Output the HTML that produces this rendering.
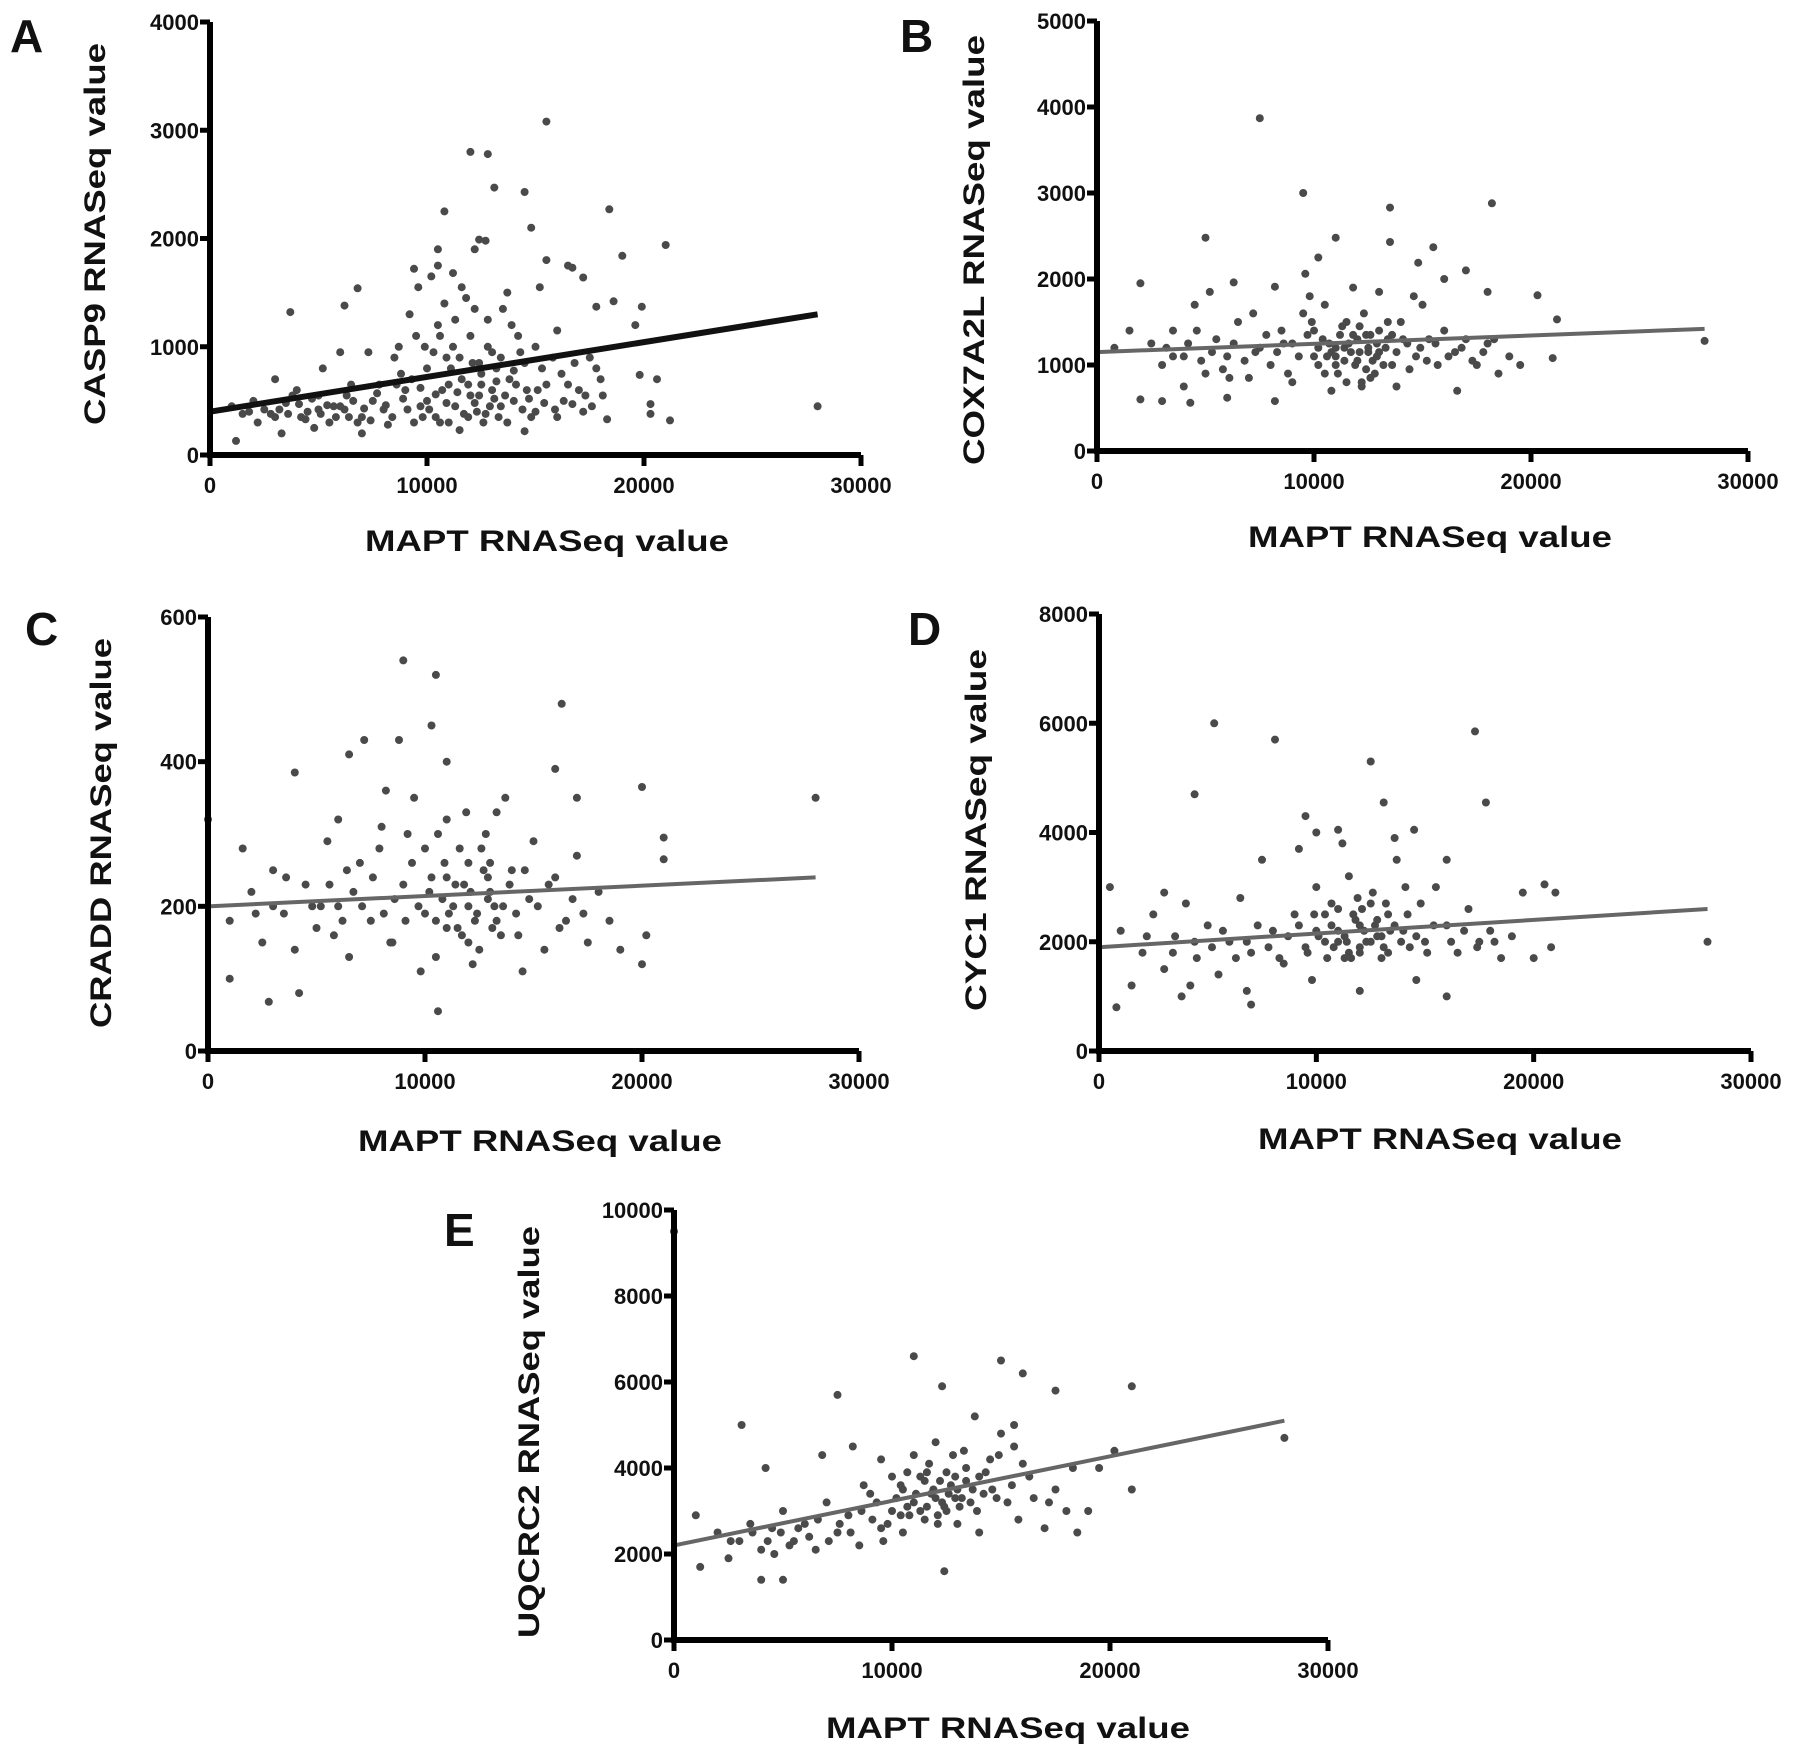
<!DOCTYPE html>
<html><head><meta charset="utf-8">
<style>
html,body{margin:0;padding:0;background:#fff;}
svg{display:block;}
text{font-family:"Liberation Sans",sans-serif;font-weight:bold;fill:#111;}
</style></head>
<body>
<svg id="fig" width="1795" height="1757" viewBox="0 0 1795 1757" xmlns="http://www.w3.org/2000/svg"></svg>
<script>
// ---- data (MAPT in thousands, gene value) ----
const xTickLabels = ["0","10000","20000","30000"];
const xTickValues = [0,10000,20000,30000];

const casp9Points = [[15.5,3080],[12,2800],[12.8,2780],[13.1,2470],[14.5,2430],[10.8,2250],[18.4,2270],[21,1940],[14.8,2100],[12.4,1990],[12.7,1980],[10.5,1900],[12.2,1900],[19,1840],[9.4,1720],[10.5,1750],[11.2,1680],[16.5,1750],[16.7,1730],[17.2,1640],[15.5,1800],[6.8,1540],[6.2,1380],[3.7,1320],[19.9,1370],[18.6,1420],[17.8,1370],[19.6,1200],[28,450],[21.2,320],[20.3,380],[20.3,470],[20.6,700],[19.8,740],[18.3,330],[1.2,130],[3.3,200],[7,200],[14.5,220],[11.5,230],
[1,450],[1.5,380],[2,500],[2.5,420],[3,350],[3.5,480],[4,600],[4.5,400],[5,550],[5.5,300],[6,450],[6.5,650],[7,350],[7.5,500],[8,420],[8.5,900],[9,600],[9.5,1100],[9.2,1300],[10,800],[10,500],[10.5,1200],[10.8,1400],[11,650],[11,300],[11.5,900],[11.8,1450],[12,550],[12,1100],[12.3,400],[12.5,750],[12.8,1250],[13,600],[13,950],[13.3,350],[13.5,1350],[13.8,700],[14,500],[14.2,1100],[14.5,850],[15,400],[15,1000],[15.5,650],[16,1150],[16.3,500],[16.8,850],[17,600],[17.5,900],[18,700],[2.2,300],[4.8,250],[6.8,300],[8.2,280],[9.8,350],[11.3,450],[12.6,300],[14.8,350],[16,350],[17.2,400],[18.1,550],[5.2,800],[7.3,950],[8.7,1000],[9.6,1550],[10.2,1650],[11.6,1550],[13.7,1500],[15.2,1550],[3,700],[6,950],
[9.3,700],[9.7,450],[10.3,950],[10.7,600],[11.2,1000],[11.6,700],[12.1,850],[12.4,550],[12.9,450],[13.2,800],[13.6,550],[14.1,650],[14.6,600],[15.3,800],[10.4,350],[11.9,350],[8.8,750],[7.8,650],[6.3,550],[5.7,450],[4.2,350],[3.8,550],[13.9,1200],[15.8,900],[16.5,650],[17.8,800],
[3.2,420],[3.6,380],[4.1,470],[4.4,330],[4.7,520],[5.1,380],[5.4,460],[5.8,350],[6.2,420],[6.6,500],[7.1,430],[7.4,320],[7.7,570],[8.1,460],[8.4,350],[8.9,520],[9.1,420],[9.4,300],[9.7,620],[10.1,420],[10.4,560],[10.6,300],[10.9,480],[11.1,800],[11.4,580],[11.7,380],[12.2,480],[12.5,650],[12.7,380],[13.1,520],[13.4,450],[13.7,300],[14,780],[14.4,420],[14.7,520],[15.1,600],[15.4,480],[15.9,420],[16.2,750],[16.7,470],[17.3,550],[17.6,450],[9.9,1000],[10.6,1100],[11.3,1250],[12.2,1350],[10.9,900],[12.8,1000],[13.4,900],[8.6,650],[6.4,350],[5,420],[2.8,380],[1.8,400],[11.9,650],[12.4,850],[13.2,680],[14.3,950]];
const casp9Fit = [400,1300];

const cox7Points = [[7.5,3870],[9.5,3000],[13.5,2830],[18.2,2880],[5,2480],[11,2480],[13.5,2430],[15.5,2370],[10.2,2250],[14.8,2190],[17,2100],[9.6,2060],[2,1950],[6.3,1960],[8.2,1910],[16,2000],[28,1280],[21,1080],[21.2,1530],[20.3,1810],[18,1850],[2,600],[3,580],[4.3,560],[8.2,580],[16.6,700],[6,620],
[0.8,1200],[1.5,1400],[2.5,1250],[3,1000],[3.5,1400],[4,1100],[4.5,1700],[5,900],[5.5,1300],[6,1100],[6.5,1500],[7,850],[7.5,1200],[8,1000],[8.5,1400],[9,1250],[9,800],[9.5,1600],[10,1100],[10,1400],[10.5,900],[10.5,1700],[11,1200],[11,1000],[11.5,1500],[11.5,800],[12,1300],[12,1050],[12.3,1600],[12.5,1150],[12.8,900],[13,1400],[13.3,1200],[13.6,1000],[14,1500],[14.3,1250],[14.7,1100],[15,1700],[15.3,1300],[15.7,1000],[16,1400],[16.5,1150],[17,1300],[17.5,1000],[18,1250],[18.5,900],[19,1100],[19.5,1000],[5.2,1850],[9.8,1800],[11.8,1900],[13,1850],[14.6,1800],[4,750],[10.8,700],[12.2,750],[13.8,750],[7.2,1600],[3.2,1200],
[11.2,1350],[11.7,1150],[12.1,1450],[12.6,1350],[12.9,1100],[10.7,1250],[13.4,1300],[11.4,1050],[12.4,950],[10.2,1200],
[3.5,1100],[4.2,1250],[4.8,1050],[5.3,1150],[5.8,950],[6.3,1250],[6.8,1050],[7.3,1150],[7.8,1350],[8.3,1150],[8.8,900],[9.3,1100],[9.7,1350],[10.2,1000],[10.4,1300],[10.8,1150],[11.1,900],[11.3,1450],[11.6,1250],[11.9,1000],[12.1,1150],[12.4,1350],[12.6,850],[12.9,1250],[13.2,1000],[13.4,1500],[13.8,1150],[14.1,1300],[14.4,950],[14.9,1200],[15.2,1050],[15.6,1250],[16.2,1100],[16.8,1200],[17.3,1050],[17.8,1150],[18.3,1300],[11,1100],[11.8,1350],[12.2,800],[12.7,1050],[13,1150],[10.6,1100],[11.4,1200],[12.5,1200],[13.6,1350],[9.9,1500],[8.6,1250],[6.1,850],[4.6,1400]];
const cox7Fit = [1150,1420];

const craddPoints = [[9,540],[10.5,520],[10.3,450],[16.3,480],[7.2,430],[8.8,430],[6.5,410],[11,400],[4,385],[16,390],[20,365],[28,350],[0,320],[17,350],[21,295],[21,265],[20.2,160],[20,120],[2.8,68],[10.6,55],[4.2,80],[1,100],[1.6,280],
[1,180],[2,220],[2.5,150],[3,250],[3.5,190],[4,140],[4.5,230],[5,170],[5.5,290],[6,200],[6.5,130],[7,260],[7.5,180],[8,310],[8.5,150],[9,230],[9.5,350],[10,190],[10,280],[10.5,130],[11,240],[11,320],[11.5,170],[12,260],[12,200],[12.5,140],[12.8,300],[13,220],[13.3,180],[13.7,350],[14,250],[14.3,160],[14.8,210],[15,290],[15.5,140],[16,240],[16.5,180],[17,270],[17.5,150],[18,220],[18.5,180],[19,140],[6,320],[8.2,360],[9.8,110],[12.2,120],[14.5,110],[3,200],[5.8,160],
[11.3,200],[11.8,230],[12.3,180],[12.7,250],[13.1,170],[10.8,210],[11.6,280],[12.9,210],[10.3,240],[13.6,200],
[5.2,200],[5.6,230],[6.2,180],[6.7,220],[7.1,200],[7.6,240],[8.1,190],[8.6,210],[9.1,180],[9.4,260],[9.7,200],[10.2,220],[10.5,180],[10.9,260],[11.1,190],[11.4,230],[11.7,160],[12.1,220],[12.4,190],[12.6,280],[12.9,240],[13.2,200],[13.5,160],[13.9,230],[14.2,190],[14.6,250],[15.2,200],[15.7,230],[16.2,170],[16.8,210],[17.3,190],[11,170],[12,150],[13,260],[10.6,300],[9.2,300],[7.9,280],[4.8,200],[3.6,240],[2.2,190],[11.9,330],[13.3,330],[6.4,250],[8.4,150]];
const craddFit = [200,240];

const cyc1Points = [[5.3,6000],[8.1,5700],[17.3,5850],[12.5,5300],[4.4,4700],[17.8,4550],[13.1,4550],[9.5,4300],[10,4000],[11,4050],[14.5,4050],[16,3500],[0.5,3000],[28,2000],[21,2900],[20.5,3050],[20.8,1900],[0.8,800],[1.5,1200],[7,850],[3.8,1000],[12,1100],[16,1000],
[1,2200],[2,1800],[2.5,2500],[3,1500],[3.5,2100],[4,2700],[4.5,1700],[5,2300],[5.5,1400],[6,2000],[6.5,2800],[7,1800],[7.5,3500],[8,2200],[8.5,1600],[9,2500],[9.5,1900],[10,3000],[10,2200],[10.5,1700],[11,2600],[11,2000],[11.5,3200],[11.5,1800],[12,2300],[12,1900],[12.5,2700],[12.8,2100],[13,1700],[13.3,2500],[13.7,3500],[14,2200],[14.3,1900],[14.8,2700],[15,2000],[15.5,3000],[16,2300],[16.5,1800],[17,2600],[17.5,2000],[18,2200],[18.5,1700],[19,2100],[19.5,2900],[20,1700],[9.2,3700],[11.2,3800],[13.6,3900],[4.2,1200],[6.8,1100],[9.8,1300],[14.6,1300],[3,2900],
[11.3,2100],[11.8,2400],[12.3,2000],[12.7,2300],[13.1,1900],[10.7,2300],[12.1,2600],[11.6,1700],[10.4,2000],[13.4,2200],
[5.2,1900],[5.7,2200],[6.3,1700],[6.8,2000],[7.3,2300],[7.8,1900],[8.3,1700],[8.7,2100],[9.2,2300],[9.6,1800],[10.1,2100],[10.4,2500],[10.8,1900],[11,2200],[11.4,2000],[11.7,2500],[12,1800],[12.2,2200],[12.5,2000],[12.8,2400],[13,2100],[13.3,1800],[13.6,2300],[13.9,2000],[14.2,2500],[14.6,2100],[15.1,1800],[15.4,2300],[16.2,2000],[16.8,2200],[17.4,1900],[18.2,2000],[11.9,2800],[12.6,2900],[10.7,2700],[13.2,2700],[4.4,2000],[3.4,1800],[2.2,2100],[14.1,3000],[9.9,2500],[11.3,1700]];
const cyc1Fit = [1900,2600];

const uqcrc2Points = [[0,9500],[11,6600],[15,6500],[12.3,5900],[16,6200],[21,5900],[7.5,5700],[3.1,5000],[17.5,5800],[28,4700],[21,3500],[19,3000],[5,1400],[12.4,1600],[1,2900],[1.2,1700],[4,1400],
[2,2500],[2.5,1900],[3,2300],[3.5,2700],[4,2100],[4.5,2600],[5,3000],[5.5,2300],[6,2700],[6.5,2100],[7,3200],[7.5,2500],[8,2900],[8.5,2200],[9,3400],[9.5,2600],[9.5,4200],[10,3000],[10,3800],[10.5,2500],[10.5,3500],[11,3200],[11,4300],[11.5,2800],[11.5,3700],[12,3300],[12,4600],[12.5,3000],[12.5,3900],[13,3500],[13,2700],[13.3,4400],[13.6,3200],[14,3800],[14,2500],[14.5,4200],[14.8,3300],[15,4800],[15.5,3600],[15.8,2800],[16,4100],[16.5,3300],[17,2600],[17.5,3500],[18,3000],[18.3,4000],[18.5,2500],[19.5,4000],[20.2,4400],[8.2,4500],[6.8,4300],[4.2,4000],[13.8,5200],[15.6,5000],
[11.3,3000],[11.8,3400],[12.3,3200],[12.7,3600],[13.1,3100],[10.7,3100],[12.1,2900],[11.6,3900],[10.4,2900],[13.4,3700],[12.9,3300],[14.2,3400],
[4.3,2300],[4.6,2000],[4.9,2500],[5.3,2200],[5.7,2600],[6.2,2400],[6.6,2800],[7.1,2300],[7.6,2700],[8.1,2500],[8.6,3000],[9.1,2800],[9.3,3200],[9.8,2700],[10.2,3300],[10.4,3600],[10.8,2900],[11.1,3400],[11.3,3800],[11.6,3100],[11.9,3500],[12.2,3700],[12.4,3100],[12.6,3400],[12.9,3800],[13.2,3300],[13.4,4000],[13.7,3500],[13.9,3000],[14.3,3900],[14.6,3500],[14.9,4300],[15.3,3200],[15.6,4500],[16.3,3800],[17.2,3200],[11.7,4100],[12.8,4300],[10.7,3900],[12.1,2700],[3.6,2500],[2.6,2300],[8.7,3600],[9.6,2300]];
const uqcrc2Fit = [2200,5100];

// ---- layout ----
const svg = document.getElementById('fig');
const NS = 'http://www.w3.org/2000/svg';
function mk(tag, attrs, parent){const e=document.createElementNS(NS,tag);for(const k in attrs)e.setAttribute(k,attrs[k]);(parent||svg).appendChild(e);return e;}

function panel(cfg){
  const g = mk('g',{});
  
  
  const xS = v => cfg.ox + (v/30000)*(cfg.xEnd-cfg.ox);
  const yS = v => cfg.oy - (v/cfg.ymax)*(cfg.oy-cfg.top);
  const pg = mk('g',{fill:'#4a4a4a'},g);
  
  
  cfg.pts.forEach(p=>{
    const c = mk('circle',{cx:xS(p[0]*1000).toFixed(1),cy:yS(p[1]).toFixed(1),r:4},pg);
    
    
  });
  const ln = mk('line',{x1:xS(0),y1:yS(cfg.fit[0]),x2:xS(28000),y2:yS(cfg.fit[1]),stroke:cfg.lineColor,'stroke-width':cfg.lineW},g);
  
  
  const ax = mk('path',{d:`M${cfg.ox},${cfg.top} L${cfg.ox},${cfg.oy} L${cfg.xEnd},${cfg.oy}`,stroke:'#000','stroke-width':6,fill:'none'},g);
  
  
  for(let v=0; v<=cfg.ymax; v+=cfg.ystep){
    const y=yS(v);
    mk('line',{x1:cfg.ox-10,y1:y,x2:cfg.ox,y2:y,stroke:'#000','stroke-width':5},g);
    const t=mk('text',{x:cfg.ox-11,y:y+8,'text-anchor':'end','font-size':22},g);
    t.textContent=String(v);
    
    
  }
  xTickValues.forEach((v,i)=>{
    const x=xS(v);
    mk('line',{x1:x,y1:cfg.oy,x2:x,y2:cfg.oy+11,stroke:'#000','stroke-width':5},g);
    const t=mk('text',{x:x,y:cfg.oy+38,'text-anchor':'middle','font-size':22},g);
    t.textContent=xTickLabels[i];
    
    
  });
  const xt=mk('text',{x:cfg.xtx,y:cfg.xty+10,'text-anchor':'middle','font-size':30,textLength:364,lengthAdjust:'spacingAndGlyphs'},g);
  xt.textContent='MAPT RNASeq value';
  
  
  const yt=mk('text',{x:0,y:0,'text-anchor':'middle','font-size':30,textLength:cfg.ytLen,lengthAdjust:'spacingAndGlyphs',transform:`translate(${cfg.ytx+10},${cfg.yty}) rotate(-90)`},g);
  yt.textContent=cfg.ytitle;
  
  
  const L=mk('text',{x:cfg.lx,y:cfg.ly,'font-size':46},g);
  L.textContent=cfg.letter;
  
  
}

panel({key:'casp9',letter:'A',pts:casp9Points,fit:casp9Fit,ox:210,oy:455,top:22,xEnd:861,ymax:4000,ystep:1000,lineColor:'#111',lineW:6,ytitle:'CASP9 RNASeq value',ytx:95,yty:234,ytLen:382,xtx:547,xty:541,lx:10,ly:52});
panel({key:'cox7a2l',letter:'B',pts:cox7Points,fit:cox7Fit,ox:1097,oy:451,top:21,xEnd:1748,ymax:5000,ystep:1000,lineColor:'#666',lineW:4,ytitle:'COX7A2L RNASeq value',ytx:974,yty:250,ytLen:430,xtx:1430,xty:537,lx:900,ly:52});
panel({key:'cradd',letter:'C',pts:craddPoints,fit:craddFit,ox:208,oy:1051,top:617,xEnd:859,ymax:600,ystep:200,lineColor:'#666',lineW:4,ytitle:'CRADD RNASeq value',ytx:101,yty:833,ytLen:390,xtx:540,xty:1141,lx:25,ly:645});
panel({key:'cyc1',letter:'D',pts:cyc1Points,fit:cyc1Fit,ox:1099,oy:1051,top:614,xEnd:1751,ymax:8000,ystep:2000,lineColor:'#666',lineW:4,ytitle:'CYC1 RNASeq value',ytx:976,yty:830,ytLen:362,xtx:1440,xty:1139,lx:908,ly:645});
panel({key:'uqcrc2',letter:'E',pts:uqcrc2Points,fit:uqcrc2Fit,ox:674,oy:1640,top:1210,xEnd:1328,ymax:10000,ystep:2000,lineColor:'#666',lineW:4,ytitle:'UQCRC2 RNASeq value',ytx:529,yty:1432,ytLen:412,xtx:1008,xty:1728,lx:444,ly:1246});
</script>
</body></html>
